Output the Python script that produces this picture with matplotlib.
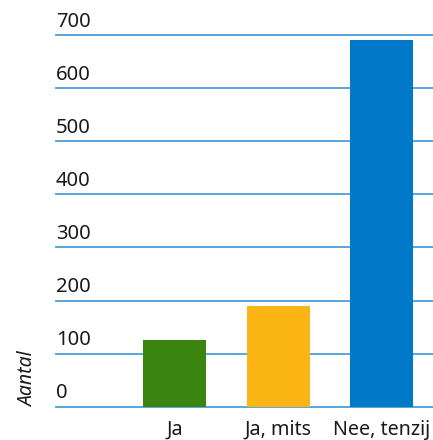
import matplotlib
matplotlib.use('Agg')
import matplotlib.pyplot as plt
import matplotlib.transforms as mtransforms

plt.rcParams['font.family'] = ['Noto Sans', 'DejaVu Sans']

# data
categories = ['Ja', 'Ja, mits', 'Nee, tenzij']
values = [125, 190, 690]
bar_colors = ['#3a8510', '#fbb616', '#0079c8']
y_ticks = [0, 100, 200, 300, 400, 500, 600, 700]

fig = plt.figure(figsize=(4.33, 4.40), dpi=100)
ax = fig.add_axes([56 / 433, 33.3 / 440, 377 / 433, 371.7 / 440])

ax.bar(range(len(categories)), values, width=0.61, color=bar_colors, zorder=3)

ax.set_xlim(-1.149, 2.50)
ax.set_ylim(0, 700)

# gridlines + labels sitting on top of each line
label_tf = mtransforms.blended_transform_factory(ax.transAxes, ax.transData)
offset = mtransforms.ScaledTranslation(0, 6 / 72, fig.dpi_scale_trans)
for v in y_ticks:
    ax.axhline(v, color='#4a9fd9', lw=1.3, clip_on=False, zorder=1)
    ax.text(0, v, str(v), transform=label_tf + offset, ha='left', va='baseline',
            fontsize=14.5, color='#1a1a1a')

ax.set_yticks([])
ax.set_xticks(range(len(categories)))
ax.set_xticklabels(categories, fontsize=14.2, color='#1a1a1a')
ax.tick_params(axis='x', length=0, pad=9.5)

for s in ax.spines.values():
    s.set_visible(False)

fig.text(28 / 433, 33.3 / 440, 'Aantal', rotation=90, style='italic',
         fontsize=14, color='#1a1a1a', ha='center', va='bottom')

plt.savefig('out.png', dpi=100)
plt.close()
